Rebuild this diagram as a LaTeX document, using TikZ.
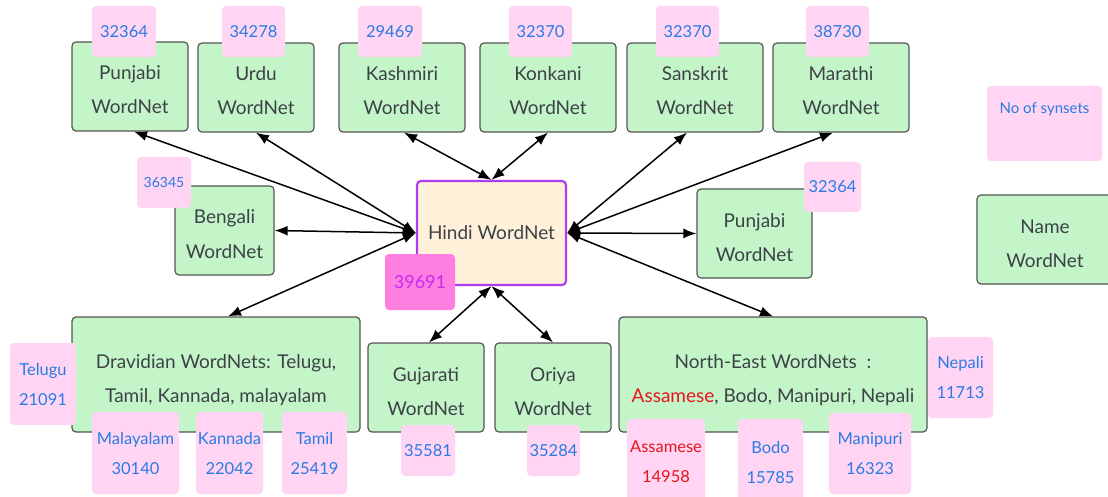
\documentclass[tikz,border=0pt]{standalone}
\usepackage{fontspec}
\setmainfont{Lato}
\usetikzlibrary{arrows.meta}
\definecolor{gfill}{HTML}{C4F5C8}
\definecolor{gdraw}{HTML}{555555}
\definecolor{pfill}{HTML}{FFD5F3}
\definecolor{btxt}{HTML}{2A7BE4}
\definecolor{ttxt}{HTML}{3D4246}
\definecolor{hfill}{HTML}{FFF0D9}
\definecolor{hdraw}{HTML}{B03CF0}
\definecolor{hbfill}{HTML}{FF7FE0}
\definecolor{hbtxt}{HTML}{C02EF0}
\definecolor{redt}{HTML}{E8141B}
\begin{document}
\begin{tikzpicture}[x=1pt,y=-1pt,
 boxbase/.style={draw=gdraw, fill=gfill, line width=1.2pt, rounded corners=4pt, text=ttxt, align=center, font=\fontsize{19}{34}\selectfont, inner sep=0pt},
 wbox/.style={boxbase, text height=55pt, text depth=0pt},
 hbox/.style={boxbase, draw=hdraw, fill=hfill, line width=2.2pt},
 badge/.style={fill=pfill, rounded corners=4pt, text=btxt, align=center, font=\fontsize{16.5}{30}\selectfont, inner sep=0pt},
 link/.style={{Latex[length=13pt,width=10pt]}-{Latex[length=13pt,width=10pt]}, line width=1.5pt, black}]
\useasboundingbox (0,0) rectangle (1108,497);
\fill[white] (0,0) rectangle (1108,497);
% top row
\node[wbox, minimum width=116pt, minimum height=89pt] (pt) at (130,86.5) {Punjabi\\WordNet};
\node[wbox, minimum width=116pt, minimum height=89pt] (ur) at (256,87.5) {Urdu\\WordNet};
\node[wbox, minimum width=126pt, minimum height=89pt] (ks) at (402,87.5) {Kashmiri\\WordNet};
\node[wbox, minimum width=136pt, minimum height=89pt] (kk) at (548,87.5) {Konkani\\WordNet};
\node[wbox, minimum width=136pt, minimum height=89pt] (sa) at (695,87.5) {Sanskrit\\WordNet};
\node[wbox, minimum width=136pt, minimum height=89pt] (mr) at (841,87.5) {Marathi\\WordNet};
% middle row
\node[wbox, minimum width=99pt, minimum height=89pt] (bn) at (224.5,230.5) {Bengali\\WordNet};
\node[hbox, minimum width=149pt, minimum height=104pt] (hi) at (491.5,233) {Hindi WordNet};
\node[wbox, minimum width=115pt, minimum height=89pt] (pr) at (754.5,233.5) {Punjabi\\WordNet};
\node[wbox, minimum width=136pt, minimum height=89pt] (nm) at (1045,239.5) {Name\\WordNet};
% bottom row
\node[wbox, minimum width=288pt, minimum height=115pt] (dr) at (216,374.5) {Dravidian WordNets: Telugu,\\Tamil, Kannada, malayalam};
\node[wbox, minimum width=116pt, minimum height=89pt] (gu) at (426,387.5) {Gujarati\\WordNet};
\node[wbox, minimum width=116pt, minimum height=89pt] (or) at (553,387.5) {Oriya\\WordNet};
\node[wbox, minimum width=308pt, minimum height=115pt] (ne) at (773,374.5) {North-East WordNets\ \ :\\\textcolor{redt}{Assamese}, Bodo, Manipuri, Nepali};
% badges
\node[badge, minimum width=64pt, minimum height=51pt] (b1) at (124,31.5) {32364};
\node[badge, minimum width=63pt, minimum height=51pt] (b2) at (253.5,31.5) {34278};
\node[badge, minimum width=64pt, minimum height=51pt] (b3) at (390,31.5) {29469};
\node[badge, minimum width=63pt, minimum height=51pt] (b4) at (540.5,31.5) {32370};
\node[badge, minimum width=63pt, minimum height=51pt] (b5) at (687.5,31.5) {32370};
\node[badge, minimum width=63pt, minimum height=51pt] (b6) at (837.5,31.5) {38730};
\node[badge, font=\fontsize{14}{28}\selectfont, minimum width=54pt, minimum height=51pt] (bb) at (164,182.5) {36345};
\node[badge, fill=hbfill, text=hbtxt, font=\fontsize{18}{30}\selectfont, minimum width=70pt, minimum height=56pt] (bh) at (420,282) {39691};
\node[badge, minimum width=57pt, minimum height=50pt] (bp) at (832.5,187) {32364};
\node[badge, font=\fontsize{15}{30}\selectfont, minimum width=115pt, minimum height=75pt] (lg) at (1044.5,123.5) {No of synsets\\\mbox{}};
\node[badge, minimum width=66pt, minimum height=82pt] (te) at (43,384) {Telugu\\21091};
\node[badge, minimum width=87pt, minimum height=82pt] (ml) at (135.5,453) {Malayalam\\30140};
\node[badge, minimum width=67pt, minimum height=82pt] (kn) at (229.5,453) {Kannada\\22042};
\node[badge, minimum width=65pt, minimum height=82pt] (ta) at (314.5,453) {Tamil\\25419};
\node[badge, minimum width=54pt, minimum height=51pt] (bg) at (428,450.5) {35581};
\node[badge, minimum width=53pt, minimum height=51pt] (bo) at (553.5,450.5) {35284};
\node[badge, minimum width=65pt, minimum height=81pt] (np) at (960.5,377.5) {Nepali\\11713};
\node[badge, text=redt, minimum width=78pt, minimum height=86pt] (as) at (666,462) {Assamese\\14958};
\node[badge, minimum width=65pt, minimum height=86pt] (bd) at (770.5,462) {Bodo\\15785};
\node[badge, minimum width=82pt, minimum height=81pt] (mn) at (870,453.5) {Manipuri\\16323};
% connectors
\draw[link] ([xshift=4pt]pt.south) -- (hi.west);
\draw[link] (ur.south) -- (hi.west);
\draw[link] ([xshift=2pt]ks.south) -- (hi.north);
\draw[link] (kk.south) -- (hi.north);
\draw[link] ([xshift=-8pt]sa.south) -- (hi.east);
\draw[link] ([xshift=-8pt]mr.south) -- (hi.east);
\draw[link] (bn.east) -- (hi.west);
\draw[link] ([xshift=12pt]dr.north) -- (hi.west);
\draw[link] (pr.west) -- (hi.east);
\draw[link] (ne.north) -- (hi.east);
\draw[link] ([xshift=3pt]gu.north) -- (hi.south);
\draw[link] (or.north) -- (hi.south);
\end{tikzpicture}
\end{document}
